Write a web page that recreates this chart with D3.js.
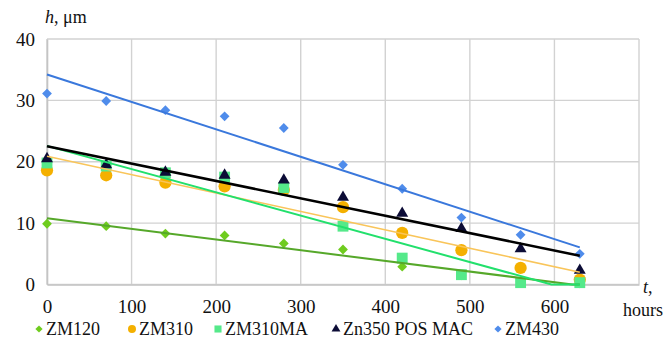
<!DOCTYPE html>
<html>
<head>
<meta charset="utf-8">
<script src="https://cdn.jsdelivr.net/npm/d3@7"></script>
<style>
  body { margin: 0; background: #fff; }
  svg text { font-family: "Liberation Serif", "DejaVu Serif", "Noto Serif", serif; }
</style>
</head>
<body>
<div id="chart"></div>
<script>
// exposure time, hours
const hours = [0, 70, 140, 210, 280, 350, 420, 490, 560, 630]

const seriesNames = ['ZM120', 'ZM310', 'ZM310MA', 'Zn350 POS MAC', 'ZM430']
const zm120 = [9.9, 9.5, 8.3, 8.0, 6.7, 5.7, 2.9, 1.5, 0.5, 0.2]
const zm310 = [18.6, 17.8, 16.6, 16.0, 15.4, 12.6, 8.4, 5.6, 2.7, 0.8]
const zm310ma = [19.8, 19.3, 18.2, 17.5, 15.8, 9.5, 4.3, 1.6, 0.3, 0.3]
const zn350 = [20.5, 19.5, 18.3, 17.8, 17.0, 14.2, 11.6, 9.1, 5.8, 2.3]
const zm430 = [31.1, 29.9, 28.4, 27.4, 25.5, 19.5, 15.6, 10.9, 8.1, 5.0]

const xTicks = [0, 100, 200, 300, 400, 500, 600]
const xGrid = [0, 100, 200, 300, 400, 500, 600, 700]
const yTicks = [0, 10, 20, 30, 40]

const width = 672
const height = 344

const series = [
  { name: seriesNames[0], values: zm120, shape: 'diamond', fill: '#6fcc1e', line: '#56a82a', lw: 2 },
  { name: seriesNames[1], values: zm310, shape: 'circle', fill: '#f4b000', line: '#f9c55a', lw: 1.6 },
  { name: seriesNames[2], values: zm310ma, shape: 'square', fill: '#55e98a', line: '#22e06c', lw: 2 },
  { name: seriesNames[3], values: zn350, shape: 'triangle', fill: '#0c0c36', line: '#000000', lw: 2.6 },
  { name: seriesNames[4], values: zm430, shape: 'diamond', fill: '#4f8ceb', line: '#3a78dc', lw: 2 }
]

const x = d3.scaleLinear().domain([0, 700]).range([47, 639])
const y = d3.scaleLinear().domain([0, 40]).range([284.5, 39])

const svg = d3.select('#chart')
  .append('svg')
  .attr('width', width)
  .attr('height', height)

// grid
svg.append('g')
  .selectAll('line')
  .data(yTicks)
  .enter()
  .append('line')
  .attr('x1', x(0)).attr('x2', x(700))
  .attr('y1', d => y(d)).attr('y2', d => y(d))
  .style('stroke', '#d2d2d2')
  .style('stroke-width', 1.4)

svg.append('g')
  .selectAll('line')
  .data(xGrid)
  .enter()
  .append('line')
  .attr('x1', d => x(d)).attr('x2', d => x(d))
  .attr('y1', y(0)).attr('y2', y(40))
  .style('stroke', '#d2d2d2')
  .style('stroke-width', 1.4)

// axes
const xAxis = svg.append('g')
  .attr('transform', 'translate(0,' + y(0) + ')')
  .call(d3.axisBottom(x).tickValues(xTicks).tickSize(0).tickPadding(10))
const yAxis = svg.append('g')
  .attr('transform', 'translate(' + x(0) + ',0)')
  .call(d3.axisLeft(y).tickValues(yTicks).tickSize(0).tickPadding(12))

;[xAxis, yAxis].forEach(function (ax) {
  ax.attr('font-family', null)
  ax.select('.domain').style('stroke', '#c4c4c4').style('stroke-width', 1.6)
  ax.selectAll('text')
    .style('font-size', '19px')
    .style('fill', '#111')
})
xAxis.selectAll('text').attr('dy', '0.95em')

// markers
const symbolFor = {
  diamond: d3.symbol().type(d3.symbolSquare).size(48),
  circle: d3.symbol().type(d3.symbolCircle).size(118),
  square: d3.symbol().type(d3.symbolSquare).size(118),
  triangle: d3.symbol().type(d3.symbolTriangle).size(62)
}

series.forEach(function (s) {
  svg.append('g')
    .selectAll('path')
    .data(s.values)
    .enter()
    .append('path')
    .attr('d', symbolFor[s.shape])
    .attr('transform', function (d, i) {
      const rot = s.shape === 'diamond' ? ' rotate(45)' : ''
      return 'translate(' + x(hours[i]) + ',' + y(d) + ')' + rot
    })
    .style('fill', s.fill)
})

// linear trend lines (least squares), held on the bottom of the plot area
function fit (xs, ys) {
  const mx = d3.mean(xs)
  const my = d3.mean(ys)
  let sxy = 0
  let sxx = 0
  xs.forEach(function (v, i) {
    sxy += (v - mx) * (ys[i] - my)
    sxx += (v - mx) * (v - mx)
  })
  const b = sxy / sxx
  return { a: my - b * mx, b: b }
}

const line = d3.line()
  .x(d => x(d[0]))
  .y(d => y(Math.max(0, d[1])))

series.forEach(function (s) {
  const f = fit(hours, s.values)
  const t0 = hours[0]
  const t1 = hours[hours.length - 1]
  const pts = [[t0, f.a + f.b * t0]]
  const tz = -f.a / f.b
  if (tz > t0 && tz < t1) pts.push([tz, 0])
  pts.push([t1, f.a + f.b * t1])
  svg.append('path')
    .datum(pts)
    .attr('d', line)
    .style('fill', 'none')
    .style('stroke', s.line)
    .style('stroke-width', s.lw)
})

// axis titles
const yTitle = svg.append('text')
  .attr('x', 45)
  .attr('y', 23)
  .style('font-size', '18px')
  .style('fill', '#111')
yTitle.append('tspan').style('font-style', 'italic').text('h')
yTitle.append('tspan').text(', μm')

const xTitle = svg.append('text')
  .attr('x', 643)
  .attr('y', 293)
  .style('font-size', '18px')
  .style('fill', '#111')
xTitle.append('tspan').style('font-style', 'italic').text('t')
xTitle.append('tspan').text(',')

svg.append('text')
  .attr('x', 623)
  .attr('y', 316)
  .style('font-size', '18px')
  .style('fill', '#111')
  .text('hours')

// legend
const legendX = [39, 132, 218, 336, 498]
const legendSymbol = {
  diamond: d3.symbol().type(d3.symbolSquare).size(26),
  circle: d3.symbol().type(d3.symbolCircle).size(50),
  square: d3.symbol().type(d3.symbolSquare).size(50),
  triangle: d3.symbol().type(d3.symbolTriangle).size(34)
}

const legend = svg.append('g')
  .selectAll('g')
  .data(series)
  .enter()
  .append('g')
  .attr('transform', (d, i) => 'translate(' + legendX[i] + ',329)')

legend.append('path')
  .attr('d', d => legendSymbol[d.shape]())
  .attr('transform', d => d.shape === 'diamond' ? 'rotate(45)' : '')
  .style('fill', d => d.fill)

legend.append('text')
  .attr('x', 7)
  .attr('y', 6)
  .style('font-size', '18px')
  .style('fill', '#111')
  .text(d => d.name)
</script>
</body>
</html>
